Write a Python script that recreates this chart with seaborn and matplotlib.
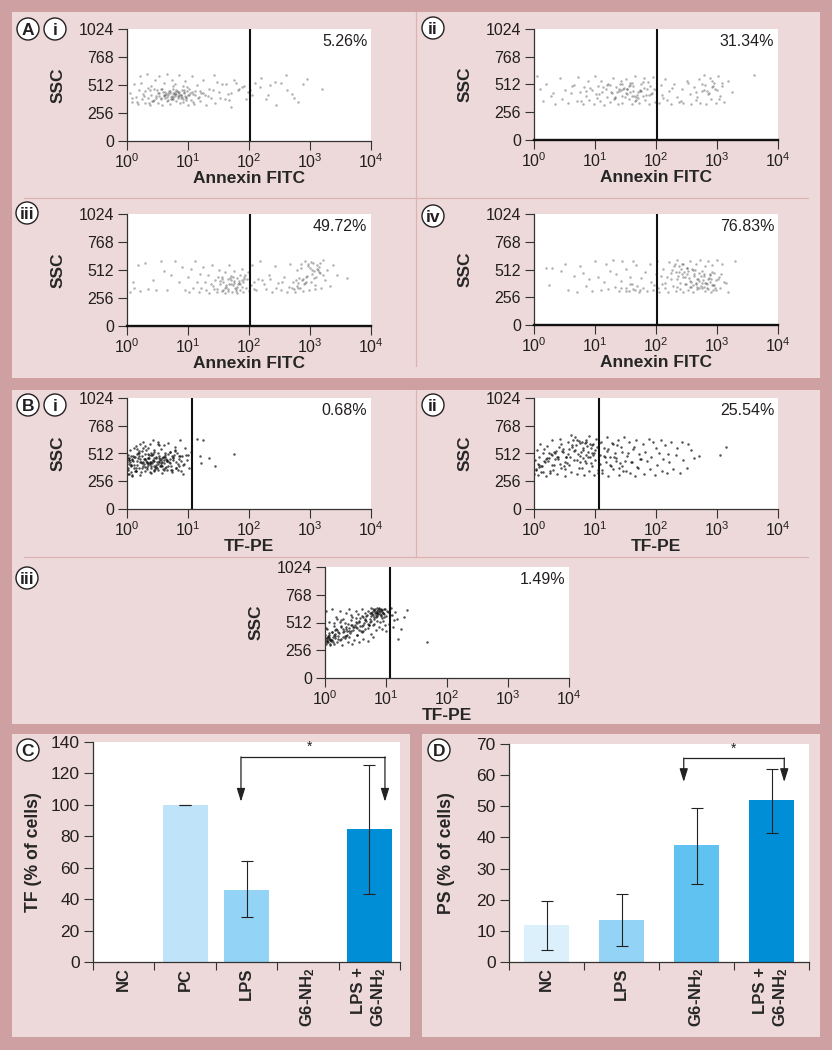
import matplotlib
matplotlib.use("Agg")
import matplotlib.pyplot as plt
from matplotlib.patches import Rectangle, Circle
import numpy as np
import seaborn as sns

# Flow cytometry dots: log10 of fluorescence and SSC
AI_X = [0.05,0.08,0.12,0.15,0.18,0.2,0.22,0.25,0.27,0.3,
        0.3,0.33,0.35,0.38,0.4,0.4,0.42,0.45,0.46,0.48,
        0.5,0.5,0.52,0.55,0.56,0.58,0.6,0.6,0.62,0.63,
        0.65,0.66,0.68,0.7,0.7,0.72,0.73,0.75,0.75,0.76,
        0.78,0.78,0.8,0.8,0.82,0.83,0.85,0.85,0.87,0.88,
        0.9,0.9,0.92,0.93,0.95,0.95,0.97,0.98,1.0,1.0,
        1.02,1.05,1.06,1.08,1.1,1.12,1.15,1.18,1.2,1.22,
        1.25,1.28,1.3,1.35,1.38,1.42,1.45,1.5,1.55,1.6,
        1.65,1.7,1.75,1.82,1.88,1.92,1.98,2.02,2.05,2.1,
        2.2,2.28,2.35,2.45,2.52,2.6,2.7,2.8,2.95,3.2,
        .62,.71,.84,.93,.55,.77,.88,.69,.97,1.04,
        .44,.59,.74,.81,.91,1.01,.66,.79,.86,.73,
        .37,.52,.64,.96,1.11,.83,.75,.68,.89,.78,
        .28,.47,.57,1.07,1.16,1.24,.94,.72,.61,.85,
        .16,.34,.41,.53,.99,1.09,1.19,1.33,.76,.67,
        1.41,1.52,1.63,1.71,1.84,.09,.23,.36,.49,.92,
        2.18,2.31,2.42,2.63,2.74,2.88,1.95,1.78,1.67,1.47]
AI_Y = [440,360,520,400,340,470,590,385,430,350,
        455,610,395,330,505,420,365,475,560,410,
        345,440,590,385,475,325,415,530,395,450,
        370,610,425,455,335,400,560,440,380,475,
        410,520,430,365,455,395,600,445,345,420,
        405,470,355,435,545,415,390,460,425,325,
        480,375,590,430,340,455,510,400,365,440,
        560,420,330,480,395,600,350,450,520,380,
        430,310,560,470,490,505,450,465,420,530,
        580,380,510,330,530,600,430,360,570,480,
        423,437,411,446,392,428,417,458,403,436,
        378,444,413,467,388,421,401,452,433,386,
        462,407,431,373,419,447,404,441,396,426,
        412,389,472,451,394,437,463,381,418,409,
        353,487,369,442,498,361,456,413,503,376,
        467,391,518,438,472,397,528,349,466,501,
        492,418,543,467,396,521,386,533,371,544]

AII_X = [0.05,0.1,0.15,0.2,0.28,0.35,0.42,0.5,0.55,0.6,
         0.65,0.7,0.72,0.75,0.8,0.82,0.85,0.88,0.9,0.95,
         0.98,1.0,1.02,1.05,1.08,1.1,1.12,1.15,1.18,1.2,
         1.22,1.25,1.28,1.3,1.32,1.35,1.38,1.4,1.42,1.45,
         1.45,1.48,1.5,1.52,1.55,1.58,1.6,1.62,1.65,1.68,
         1.7,1.72,1.75,1.78,1.8,1.82,1.85,1.88,1.9,1.92,
         1.95,1.98,2.0,2.05,2.08,2.1,2.15,2.18,2.22,2.25,
         2.3,2.35,2.38,2.42,2.45,2.5,2.55,2.58,2.62,2.65,
         2.7,2.72,2.75,2.78,2.8,2.82,2.85,2.88,2.9,2.92,
         2.95,2.98,3.0,3.02,3.05,3.08,3.12,3.18,3.25,3.6,
         1.13,1.27,1.41,1.53,1.64,1.76,1.87,1.33,1.46,1.57,
         1.69,1.81,1.93,1.24,1.36,1.49,1.61,1.73,1.84,1.96,
         1.07,1.19,1.31,1.43,1.56,1.67,1.79,1.89,.92,1.03,
         2.83,2.94,3.03,2.76,2.87,2.97,3.09,2.68,2.79,2.91,
         .31,.46,.62,.77,.85,2.12,2.27,2.41,2.53,2.66,
         1.39,1.51,1.63,1.71,1.58,1.44,1.66,1.74,1.52,1.61]
AII_Y = [590,470,360,520,410,330,570,460,345,430,
         510,360,580,440,330,490,410,545,370,460,
         330,590,420,500,360,540,445,325,475,395,
         520,350,430,570,385,490,330,455,545,405,
         340,480,560,420,375,510,330,455,590,395,
         440,345,520,405,570,365,470,330,500,425,
         585,350,460,340,510,415,560,370,450,330,
         520,400,350,470,340,545,420,330,490,370,
         560,345,450,600,510,330,420,570,380,490,
         530,340,460,590,410,500,355,540,440,600,
         487,442,516,473,408,452,537,398,466,523,
         418,484,432,511,447,393,528,461,414,472,
         426,508,381,462,498,371,534,418,477,391,
         452,496,377,513,438,472,526,401,463,542,
         438,382,497,356,453,391,478,364,526,443,
         472,434,498,386,441,512,362,453,467,404]

AIII_X = [0.05,0.1,0.12,0.18,0.22,0.3,0.35,0.42,0.48,0.55,
          0.6,0.65,0.72,0.78,0.85,0.9,0.95,1.0,1.02,1.05,
          1.08,1.12,1.15,1.18,1.2,1.22,1.25,1.28,1.3,1.32,
          1.35,1.38,1.4,1.42,1.45,1.48,1.5,1.52,1.55,1.55,
          1.58,1.6,1.6,1.62,1.65,1.65,1.68,1.7,1.7,1.72,
          1.75,1.75,1.78,1.8,1.8,1.82,1.85,1.85,1.88,1.9,
          1.9,1.92,1.95,1.98,2.0,2.05,2.08,2.12,2.18,2.22,
          2.28,2.32,2.38,2.42,2.48,2.52,2.58,2.62,2.68,2.72,
          2.75,2.78,2.8,2.82,2.85,2.88,2.9,2.92,2.95,2.98,
          3.0,3.02,3.05,3.08,3.1,3.12,3.15,3.18,3.22,3.25,
          3.28,3.32,3.38,3.45,3.6,
          1.63,1.71,1.77,1.84,1.92,1.58,1.67,1.74,1.81,1.88,
          1.53,1.61,1.69,1.79,1.86,1.94,1.47,1.56,1.73,1.83,
          1.41,1.49,1.66,1.76,1.89,1.96,2.03,2.09,2.14,2.24,
          2.83,2.91,2.97,3.04,3.11,3.17,2.79,2.87,2.94,3.01,
          3.07,3.14,3.21,2.74,2.81,2.89,2.96,3.03,3.09,3.16,
          2.71,2.77,2.86,2.93,3.06,3.13,2.66,2.54,2.44,2.34]
AIII_Y = [310,400,345,560,320,580,340,420,330,590,
          500,330,470,590,400,540,330,450,310,520,
          350,590,400,310,480,350,540,400,330,470,
          300,380,560,340,420,310,510,380,450,320,
          400,300,490,360,430,320,560,380,460,310,
          410,500,340,440,305,380,470,330,520,400,
          310,450,350,490,320,560,400,330,590,420,
          340,470,310,550,390,330,450,310,570,400,
          310,510,350,440,570,320,380,590,460,330,
          530,400,580,340,450,560,490,350,600,420,
          510,370,560,470,440,
          372,418,346,397,433,326,388,452,361,421,
          407,352,436,318,384,462,338,426,377,412,
          368,447,341,391,358,426,373,337,432,386,
          344,391,552,473,524,572,367,418,447,586,
          502,543,463,336,396,431,568,511,372,486,
          352,421,534,398,443,512,361,402,348,427]

AIV_X = [0.2,0.25,0.3,0.45,0.5,0.55,0.65,0.7,0.75,0.8,
         0.85,0.9,0.95,1.0,1.05,1.1,1.15,1.18,1.22,1.25,
         1.3,1.32,1.35,1.4,1.42,1.45,1.5,1.5,1.55,1.58,
         1.6,1.62,1.65,1.68,1.72,1.75,1.78,1.82,1.85,1.9,
         1.92,1.95,2.0,2.02,2.05,2.1,2.12,2.15,2.18,2.2,
         2.22,2.25,2.28,2.3,2.32,2.35,2.35,2.38,2.4,2.42,
         2.45,2.45,2.48,2.5,2.5,2.52,2.55,2.55,2.58,2.6,
         2.6,2.62,2.65,2.65,2.68,2.7,2.7,2.72,2.75,2.75,
         2.78,2.8,2.8,2.82,2.85,2.85,2.88,2.9,2.9,2.92,
         2.95,2.95,2.98,3.0,3.02,3.05,3.08,3.12,3.18,3.3,
         2.33,2.41,2.47,2.53,2.61,2.67,2.73,2.81,2.87,2.93,
         2.37,2.43,2.51,2.57,2.63,2.71,2.77,2.83,2.89,2.97,
         2.27,2.36,2.44,2.54,2.66,2.74,2.79,2.86,2.92,2.99,
         2.31,2.39,2.46,2.56,2.64,2.69,2.76,2.84,2.91,3.03,
         2.24,2.34,2.49,2.59,2.68,2.78,2.88,2.94,3.07,3.14,
         1.43,1.51,1.57,1.63,1.69,1.74,1.96,2.03,2.08,2.14]
AIV_Y = [530,370,525,500,560,320,450,300,540,480,
         360,420,310,590,440,320,400,560,330,500,
         600,350,470,310,410,590,340,520,310,440,
         380,590,320,550,300,430,340,490,310,560,
         400,320,470,590,300,380,520,340,440,300,
         580,480,360,540,310,420,600,490,330,560,
         440,300,380,530,470,320,590,410,350,510,
         300,450,380,560,330,480,410,600,340,500,
         450,310,540,390,590,330,470,420,300,550,
         370,480,320,600,420,340,560,400,300,590,
         486,518,447,502,372,423,356,391,438,367,
         543,471,528,396,466,337,412,382,463,345,
         512,453,566,433,389,448,346,423,371,412,
         561,387,492,351,507,427,383,338,486,441,
         427,348,381,517,353,466,394,326,473,386,
         342,318,376,331,358,322,367,341,456,392]

BI_X = [0.0,0.01,0.02,0.03,0.04,0.05,0.06,0.08,0.09,0.1,
        0.12,0.13,0.15,0.16,0.18,0.19,0.2,0.22,0.23,0.25,
        0.26,0.27,0.28,0.3,0.3,0.32,0.33,0.35,0.35,0.37,
        0.38,0.4,0.4,0.42,0.43,0.45,0.45,0.47,0.48,0.5,
        0.5,0.52,0.53,0.55,0.55,0.57,0.58,0.6,0.6,0.62,
        0.63,0.65,0.66,0.68,0.7,0.7,0.72,0.74,0.75,0.78,
        0.8,0.8,0.82,0.85,0.87,0.88,0.9,0.92,0.95,0.98,
        1.0,1.02,1.05,1.15,1.2,1.22,1.25,1.35,1.45,1.75,
        0.03,0.07,0.11,0.14,0.17,0.21,0.24,0.29,0.31,0.34,
        0.36,0.39,0.41,0.44,0.46,0.49,0.51,0.54,0.56,0.59,
        0.61,0.64,0.67,0.69,0.73,0.76,0.79,0.83,0.86,0.91,
        0.02,0.06,0.1,0.15,0.2,0.25,0.3,0.35,0.4,0.45,
        .31,.38,.44,.52,.57,.34,.41,.47,.55,.61,
        .28,.36,.43,.49,.58,.64,.33,.39,.46,.53,
        .22,.29,.37,.42,.51,.59,.66,.24,.35,.48,
        .12,.18,.26,.32,.45,.54,.62,.71,.77,.84,
        .04,.09,.14,.19,.27,.56,.68,.74,.81,.89,
        .01,.05,.08,.13,.16,.21,.63,.72,.78,.93,
        .02,.06,.11,.23,.37,.44,.52,.65,.7,.87,
        .03,.07,.17,.29,.4,.5,.6,.75,.85,.97]
BI_Y = [430,500,360,470,320,540,400,450,300,490,
        410,350,580,440,470,380,520,310,430,490,
        400,620,460,350,510,430,390,560,470,340,
        420,500,380,640,450,350,530,410,470,600,
        360,490,440,400,550,330,470,420,590,380,
        500,440,360,610,460,530,400,340,480,570,
        430,380,520,460,640,350,490,410,560,450,
        500,380,530,650,490,420,640,470,400,510,
        455,410,480,350,510,430,380,460,540,420,
        475,395,500,445,370,430,520,465,405,480,
        450,385,510,430,360,470,540,415,490,325,
        470,405,445,380,490,425,460,510,435,395,
        446,418,472,437,401,468,427,392,455,483,
        412,497,445,378,432,463,423,518,386,474,
        458,391,436,507,419,371,448,531,403,483,
        378,512,438,366,541,397,476,428,502,361,
        411,463,348,536,567,428,398,487,376,441,
        382,437,318,476,552,597,512,363,539,418,
        326,488,564,343,604,358,587,442,526,488,
        453,341,403,578,336,618,356,452,393,498]

BII_X = [0.0,0.02,0.03,0.05,0.07,0.08,0.1,0.12,0.14,0.15,
         0.18,0.2,0.22,0.25,0.27,0.3,0.32,0.35,0.37,0.4,
         0.42,0.45,0.47,0.5,0.52,0.55,0.57,0.6,0.62,0.65,
         0.67,0.7,0.72,0.75,0.75,0.78,0.8,0.8,0.82,0.85,
         0.85,0.88,0.9,0.9,0.92,0.95,0.95,0.98,1.0,1.0,
         1.02,1.05,1.08,1.1,1.12,1.15,1.18,1.2,1.22,1.25,
         1.28,1.3,1.32,1.35,1.38,1.4,1.42,1.45,1.48,1.5,
         1.52,1.55,1.58,1.6,1.62,1.65,1.68,1.7,1.72,1.75,
         1.78,1.8,1.82,1.85,1.88,1.9,1.92,1.95,1.98,2.0,
         2.02,2.05,2.08,2.1,2.12,2.15,2.18,2.2,2.22,2.25,
         2.28,2.32,2.35,2.4,2.42,2.45,2.5,2.52,2.58,2.62,
         2.7,3.05,3.15,0.6,0.7,0.85,0.95,1.05,0.3,0.5,
         .08,.16,.24,.31,.39,.46,.54,.63,.71,.79,
         .86,.94,.12,.21,.29,.36,.44,.51,.59,.68,
         .74,.83,.91,.99,.06,.17,.26,.34,.41,.49,
         .56,.64,.73,.81,.89,.97,.04,.13,.23,.33,
         .43,.53,.66,.76,.84,.93,1.03,1.09,1.14,1.19,
         1.24,1.29,1.34,1.39,1.44,1.49,1.06,1.11,1.16,1.21,
         1.26,1.31,1.36,1.41,1.46,1.54,1.59,1.64,1.69,1.74,
         .58,.69,.77,.87,.96,.48,.38,.28,.19,.09]
BII_Y = [320,450,370,540,310,480,600,400,340,520,
         430,300,580,470,350,640,410,520,320,460,
         650,380,550,300,480,620,410,340,570,450,
         660,320,510,430,610,380,560,470,310,640,
         420,530,350,670,480,400,590,310,540,450,
         650,360,500,620,330,560,430,660,300,480,
         610,370,520,440,640,310,570,400,660,350,
         490,620,330,430,550,300,640,380,510,460,
         600,320,530,440,650,370,480,620,310,560,
         410,520,640,350,460,590,330,510,430,620,
         370,500,560,330,620,450,380,600,540,470,
         490,500,575,680,640,620,520,330,500,430,
         387,443,512,364,476,538,421,588,453,617,
         502,566,338,472,406,531,598,367,483,542,
         627,439,598,512,418,556,333,461,574,393,
         508,636,381,544,476,602,361,398,447,528,
         413,476,537,489,611,423,574,418,493,536,
         407,598,468,378,522,441,611,357,483,552,
         396,478,591,423,346,512,437,568,386,464,
         553,592,524,578,497,528,482,511,463,402]

BIII_X = [0.0,0.0,0.01,0.02,0.03,0.04,0.05,0.06,0.07,0.08,
          0.1,0.11,0.12,0.14,0.15,0.16,0.18,0.2,0.2,0.22,
          0.24,0.25,0.27,0.28,0.3,0.3,0.32,0.34,0.35,0.37,
          0.38,0.4,0.4,0.42,0.44,0.45,0.47,0.48,0.5,0.5,
          0.52,0.54,0.55,0.57,0.58,0.6,0.6,0.62,0.64,0.65,
          0.66,0.68,0.7,0.7,0.72,0.73,0.75,0.75,0.77,0.78,
          0.8,0.8,0.81,0.83,0.84,0.85,0.85,0.87,0.88,0.9,
          0.9,0.91,0.92,0.93,0.95,0.95,0.96,0.98,1.0,1.0,
          1.02,1.05,1.08,1.1,1.12,1.15,1.18,1.2,1.25,1.3,
          1.35,1.67,0.05,0.12,0.22,0.33,0.46,0.56,0.67,0.78,
          0.86,0.94,0.03,0.09,0.17,0.26,0.36,0.43,0.53,0.63,
          0.74,0.82,0.89,0.97,0.79,0.86,0.83,0.92,0.76,0.88,
          .02,.04,.06,.09,.11,.13,.16,.18,.21,.23,
          .26,.29,.31,.33,.36,.39,.41,.43,.46,.49,
          .51,.53,.56,.59,.61,.63,.66,.69,.71,.74,
          .76,.79,.81,.84,.86,.89,.91,.94,.96,.99,
          .01,.07,.14,.19,.27,.34,.42,.52,.62,.72,
          .77,.82,.85,.87,.9,.93,.95,.8,.75,.7,
          .65,.6,.55,.5,.45,.4,.35,.3,.25,.15,
          .03,.06,.1,.05,.08,.13,.17,1.03,1.07,1.13]
BIII_Y = [340,400,310,620,370,450,330,520,380,300,
          350,640,420,310,480,370,560,330,440,390,
          620,350,480,300,420,540,370,600,450,330,
          500,380,640,430,310,560,470,350,520,620,
          400,590,330,480,550,420,640,360,510,600,
          450,570,340,620,490,540,410,650,590,380,
          630,500,560,440,610,650,530,590,470,620,
          520,640,570,450,600,530,640,490,570,430,
          620,500,650,580,470,610,540,360,450,560,
          630,330,380,350,420,390,470,440,530,490,
          570,550,350,310,440,360,430,490,510,560,
          520,600,610,590,640,620,580,630,600,650,
          372,343,398,356,421,333,386,448,362,412,
          473,381,436,507,396,463,418,536,442,487,
          558,463,513,436,572,492,534,583,457,602,
          523,578,618,566,603,641,582,613,566,637,
          462,418,512,543,531,467,583,394,437,491,
          612,637,598,623,588,627,604,547,571,502,
          546,482,524,466,493,429,392,451,518,401,
          331,362,337,389,347,374,403,612,578,533]

SSC_TICKS = [0, 256, 512, 768, 1024]
LOG_TICKS = [1, 10, 100, 1000, 10000]
LOG_LABELS = ["$10^0$", "$10^1$", "$10^2$", "$10^3$", "$10^4$"]

# Bar charts
TF_LABELS = ["NC", "PC", "LPS", "G6-NH$_2$", "LPS +\nG6-NH$_2$"]
TF_VALUES = [0.3, 100, 46, 0, 84.5]
TF_LOW = [0.3, 100, 28.5, 0, 43]
TF_HIGH = [0.3, 100, 64, 0, 125.5]
TF_COLORS = ["#BFE3F9", "#BFE3F9", "#93D3F5", "#5FC2F0", "#008FD7"]

PS_LABELS = ["NC", "LPS", "G6-NH$_2$", "LPS +\nG6-NH$_2$"]
PS_VALUES = [12, 13.5, 37.5, 52]
PS_LOW = [4, 5, 25, 41.5]
PS_HIGH = [19.7, 21.8, 49.3, 62]
PS_COLORS = ["#DCF0FC", "#93D3F5", "#5FC2F0", "#008FD7"]

OUTER = "#CFA0A1"
PANEL = "#EDD9D9"
RULE = "#DDB3B2"
INK = "#231F20"

sns.set_theme(style="white")
plt.rcParams['font.family'] = ['Liberation Sans', 'DejaVu Sans']
plt.rcParams['mathtext.default'] = 'regular'
plt.rcParams['text.color'] = INK

W, H = 832, 1050
fig = plt.figure(figsize=(W / 100, H / 100), dpi=100, facecolor=OUTER)

# pixel canvas for panels, rules and circled letters
bg = fig.add_axes([0, 0, 1, 1], zorder=0)
bg.set_xlim(0, W)
bg.set_ylim(H, 0)
bg.axis("off")
for x0, y0, x1, y1 in [(12, 12, 820, 378), (12, 390, 820, 724),
                       (12, 734, 410, 1037), (422, 734, 820, 1037)]:
    bg.add_patch(Rectangle((x0, y0), x1 - x0, y1 - y0, color=PANEL, lw=0))
for xs, ys in [((416, 416), (12, 366)), ((24, 808), (198, 198)),
               ((416, 416), (390, 557)), ((24, 808), (557, 557))]:
    bg.plot(xs, ys, color=RULE, lw=0.9)


def badge(cx, cy, text):
    bg.add_patch(Circle((cx, cy), 11, facecolor="white", edgecolor=INK, lw=1.0))
    bg.text(cx, cy, text, ha="center", va="center_baseline", fontsize=12.5,
            fontweight="bold")


for cx, cy, text in [(28, 29, "A"), (55, 29, "i"), (433, 28, "ii"), (27, 213, "iii"),
                     (433, 216, "iv"), (28, 405, "B"), (55, 405, "i"), (433, 405, "ii"),
                     (27, 578, "iii"), (28, 750, "C"), (439, 750, "D")]:
    badge(cx, cy, text)


def px_axes(x0, y0, x1, y1):
    ax = fig.add_axes([x0 / W, 1 - y1 / H, (x1 - x0) / W, (y1 - y0) / H], zorder=2)
    ax.set_facecolor("white")
    sns.despine(ax=ax)
    return ax


def facs_panel(box, xs, ys, pct, xlabel, gate, heavy_base=False, dark=False):
    ax = px_axes(*box)
    sns.scatterplot(x=10 ** np.array(xs), y=ys, ax=ax, s=3.2 if dark else 3.2,
                    color="#111111" if dark else "#444444",
                    alpha=0.72 if dark else 0.42, linewidth=0, legend=False)
    ax.set_xscale("log")
    ax.set_xlim(1, 10000)
    ax.set_ylim(0, 1024)
    ax.set_xticks(LOG_TICKS, LOG_LABELS)
    ax.set_yticks(SSC_TICKS)
    ax.minorticks_off()
    ax.xaxis.set_minor_locator(plt.NullLocator())
    ax.tick_params(length=6.5, width=0.8, color="#333333", labelsize=11.5,
                   labelcolor=INK, pad=3, bottom=True, left=True)
    ax.tick_params(axis="x", pad=1.5)
    for side in ["left", "bottom"]:
        ax.spines[side].set_color("#333333")
        ax.spines[side].set_linewidth(0.9)
    if heavy_base:
        ax.spines["bottom"].set_color("#111111")
        ax.spines["bottom"].set_linewidth(1.7)
    ax.axvline(gate, color="#111111", lw=1.5)
    ax.set_xlabel(xlabel, fontweight="bold", fontsize=12.5, va="top")
    ax.set_ylabel("SSC", fontweight="bold", fontsize=12.5, va="center")
    ax.xaxis.set_label_coords(0.5, -0.27)
    ax.yaxis.set_label_coords(-0.283, 0.5)
    ax.text(0.985, 0.885, pct, transform=ax.transAxes, ha="right", va="center",
            fontsize=11.5)
    return ax


facs_panel((127, 29, 371, 141), AI_X, AI_Y, "5.26%", "Annexin FITC", 105)
facs_panel((534, 29, 778, 140), AII_X, AII_Y, "31.34%", "Annexin FITC", 105, heavy_base=True)
facs_panel((127, 214, 371, 326), AIII_X, AIII_Y, "49.72%", "Annexin FITC", 105, heavy_base=True)
facs_panel((534, 214, 778, 325), AIV_X, AIV_Y, "76.83%", "Annexin FITC", 105, heavy_base=True)
facs_panel((127, 398, 371, 509), BI_X, BI_Y, "0.68%", "TF-PE", 11.8, dark=True)
facs_panel((534, 398, 778, 509), BII_X, BII_Y, "25.54%", "TF-PE", 11.8, dark=True)
facs_panel((325, 567, 569, 678), BIII_X, BIII_Y, "1.49%", "TF-PE", 11.8, dark=True)


def bar_panel(box, labels, values, low, high, colors, ylabel, ymax, ystep, width,
              label_x, bracket, star_x):
    ax = px_axes(*box)
    sns.barplot(x=labels, y=values, hue=labels, palette=colors, ax=ax, legend=False,
                width=width, saturation=1, linewidth=0)
    n = len(labels)
    pos = np.arange(n)
    vals = np.array(values)
    keep = np.array(high) > 0.5
    ax.errorbar(pos[keep], vals[keep],
                yerr=[vals[keep] - np.array(low)[keep], np.array(high)[keep] - vals[keep]],
                fmt="none", ecolor="#222222", elinewidth=0.8, capsize=4.2, capthick=0.8)
    ax.set_xlim(-0.5, n - 0.5)
    ax.set_ylim(0, ymax)
    ax.set_yticks(np.arange(0, ymax + 1, ystep))
    ax.set_xticks(np.arange(n + 1) - 0.5, [""] * (n + 1))
    ax.set_xticks(pos, labels, minor=True, rotation=90, ha="center", va="top",
                  multialignment="right", fontweight="bold", fontsize=12)
    ax.tick_params(axis="x", which="minor", length=0, pad=4)
    ax.tick_params(axis="x", which="major", length=6, width=0.8, color="#333333", bottom=True)
    ax.tick_params(axis="y", length=6.5, width=0.8, color="#333333", labelsize=12.5,
                   labelcolor=INK, pad=3, left=True)
    for side in ["left", "bottom"]:
        ax.spines[side].set_color("#333333")
        ax.spines[side].set_linewidth(0.9)
    ax.set_ylabel(ylabel, fontweight="bold", fontsize=12.7, va="center")
    ax.yaxis.set_label_coords(label_x, 0.5)
    ax.set_xlabel("")

    x_left, x_right, y_top, y_tip = bracket
    ax.plot([x_left, x_right], [y_top, y_top], color="#222222", lw=0.9)
    for x in (x_left, x_right):
        ax.annotate("", xy=(x, y_tip), xytext=(x, y_top),
                    arrowprops=dict(arrowstyle="-|>,head_length=0.8,head_width=0.25",
                                    mutation_scale=10, color="#222222", lw=0.9,
                                    shrinkA=0, shrinkB=0))
    ax.text(star_x, ymax * 0.98, "*", ha="center", va="center", fontsize=10)
    return ax


bar_panel((93, 742, 400, 962), TF_LABELS, TF_VALUES, TF_LOW, TF_HIGH, TF_COLORS,
          "TF (% of cells)", 140, 20, 0.73, -0.195, (1.91, 4.255, 130.5, 102), 3.02)
bar_panel((509, 744, 809, 962), PS_LABELS, PS_VALUES, PS_LOW, PS_HIGH, PS_COLORS,
          "PS (% of cells)", 70, 10, 0.59, -0.207, (1.83, 3.17, 65.5, 57.8), 2.5)

fig.savefig("out.png", dpi=100, facecolor=OUTER)
plt.close(fig)
